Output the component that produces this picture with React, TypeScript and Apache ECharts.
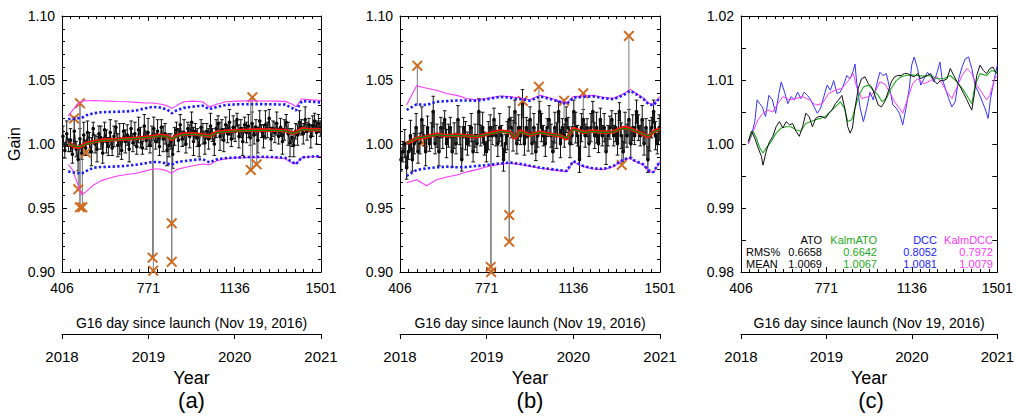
import React, { useEffect, useRef } from 'react';
import * as echarts from 'echarts';

const FONT = 'Liberation Sans, Arial, Helvetica, sans-serif';

// ---------- axes ----------
const dayTicks = [406, 771, 1136, 1501];
const yearTicks = [2018, 2019, 2020, 2021];
const dayAxisName = 'G16 day since launch (Nov 19, 2016)';
const panelLabels = ['(a)', '(b)', '(c)'];

// ---------- panels (a) & (b): individual gains ----------
const dayStart = 410;
const dayStep = 8;

const gainA = [
  1.006, 0.995, 1.008, 0.999, 1.003, 0.992, 1.010, 0.996, 0.988, 1.004, 0.993, 1.007,
  0.997, 1.009, 1.001, 0.994, 1.012, 1.000, 0.996, 1.008, 1.005, 0.993, 1.011, 1.002, 0.998,
  1.009, 0.997, 1.006, 1.013, 0.999, 1.004, 0.995, 1.010, 1.002, 1.007, 0.996, 1.012,
  1.001, 1.008, 0.998, 1.011, 1.005, 0.997, 1.014, 1.003, 1.009, 0.999, 1.006, 1.012, 1.002,
  1.010, 0.998, 1.013, 1.004, 1.008, 0.995, 0.999, 1.002, 0.992, 1.006, 1.011, 1.003,
  1.015, 1.004, 1.009, 1.000, 1.012, 1.006, 1.017, 1.002, 1.010, 1.005, 0.999, 1.013, 1.008,
  1.001, 1.010, 1.004, 1.014, 1.007, 1.000, 1.012, 1.016, 1.006, 1.011, 1.003, 1.015,
  1.008, 1.017, 1.004, 1.013, 1.010, 1.019, 1.006, 1.012, 1.002, 1.015, 1.009, 1.014, 1.005,
  1.016, 1.007, 1.013, 1.003, 1.018, 1.010, 1.006, 1.015, 1.011, 1.020, 1.004, 1.012,
  1.009, 1.016, 1.006, 1.013, 1.002, 1.011, 1.017, 1.008, 1.001, 1.005, 0.999, 1.010, 1.007,
  1.017, 1.013, 1.008, 1.019, 1.010, 1.015, 1.006, 1.014, 1.018, 1.009, 1.016, 1.012,
];
const errA = [
  0.008, 0.006, 0.010, 0.005, 0.009, 0.007, 0.011, 0.006, 0.009, 0.008, 0.005, 0.010,
  0.006, 0.009, 0.008, 0.011, 0.005, 0.007, 0.010, 0.006, 0.009, 0.008, 0.006, 0.009, 0.007,
  0.010, 0.006, 0.008, 0.005, 0.009, 0.012, 0.007, 0.006, 0.009, 0.008, 0.010, 0.006,
  0.007, 0.009, 0.006, 0.010, 0.008, 0.005, 0.009, 0.007, 0.011, 0.006, 0.008, 0.009, 0.006,
  0.009, 0.007, 0.006, 0.010, 0.008, 0.012, 0.009, 0.006, 0.011, 0.007, 0.006, 0.009,
  0.008, 0.006, 0.010, 0.007, 0.005, 0.009, 0.008, 0.011, 0.006, 0.007, 0.009, 0.006, 0.008,
  0.009, 0.006, 0.008, 0.010, 0.005, 0.009, 0.007, 0.006, 0.011, 0.008, 0.009, 0.006,
  0.007, 0.010, 0.006, 0.009, 0.008, 0.005, 0.009, 0.007, 0.011, 0.006, 0.008, 0.009, 0.006,
  0.009, 0.007, 0.006, 0.010, 0.008, 0.005, 0.009, 0.011, 0.006, 0.007, 0.009, 0.006,
  0.008, 0.009, 0.006, 0.007, 0.010, 0.008, 0.006, 0.009, 0.011, 0.007, 0.009, 0.006, 0.008,
  0.009, 0.006, 0.008, 0.010, 0.007, 0.005, 0.009, 0.008, 0.006, 0.009, 0.007, 0.006,
];
const gainB = [
  0.9878, 0.994, 1.0003, 0.9815, 0.994, 1.0065, 0.9878, 1.0003, 1.0128, 0.994, 1.0003, 1.019,
  1.0065, 0.994, 1.0128, 1.0003, 1.0065, 1.0253, 1.0003, 1.0065, 0.994, 1.0128, 1.0065, 1.019, 1.0003,
  1.0065, 1.0128, 0.994, 1.0065, 1.0003, 1.019, 1.0065, 0.9878, 1.0128, 1.0065, 1.0003, 1.0065,
  1.0128, 0.994, 1.0065, 1.0003, 1.0253, 1.0065, 1.0128, 1.0003, 0.994, 1.0065, 1.0128, 1.0065, 1.019,
  1.0065, 1.0003, 1.0128, 1.0065, 0.9878, 1.0003, 1.0065, 1.019, 1.0128, 1.0065, 1.0253, 1.0003,
  1.0128, 1.0065, 1.0315, 1.0003, 1.0128, 1.0065, 1.019, 1.0003, 1.0128, 0.994, 1.0065, 1.0253, 1.0128,
  1.0065, 1.0003, 1.0128, 1.019, 1.0065, 0.994, 1.0128, 1.0065, 1.0253, 1.0003, 1.0128, 1.0065,
  1.019, 1.0128, 1.0003, 1.0065, 1.0253, 1.0128, 1.0065, 0.9878, 1.0128, 1.019, 1.0065, 1.0128, 1.0003,
  1.0128, 1.0253, 1.0065, 1.0128, 1.0003, 1.019, 1.0065, 1.0128, 0.994, 1.0065, 1.0128, 1.019,
  1.0065, 1.0128, 1.0003, 1.0253, 1.0065, 0.994, 1.0128, 1.0065, 1.019, 1.0003, 1.0128, 1.0065, 1.0253,
  1.0128, 1.0065, 1.019, 1.0003, 1.0128, 0.9878, 1.0065, 1.0128, 1.0253, 1.0065, 1.0003, 1.0128,
];
const errB = [
  0.009, 0.008, 0.011, 0.009, 0.006, 0.012, 0.009, 0.008, 0.011, 0.009, 0.008, 0.010,
  0.008, 0.011, 0.009, 0.006, 0.010, 0.012, 0.008, 0.009, 0.011, 0.008, 0.010, 0.007, 0.011,
  0.009, 0.008, 0.012, 0.010, 0.008, 0.011, 0.007, 0.009, 0.008, 0.011, 0.009, 0.008,
  0.011, 0.008, 0.009, 0.007, 0.010, 0.008, 0.012, 0.009, 0.008, 0.011, 0.010, 0.007, 0.009,
  0.008, 0.010, 0.011, 0.008, 0.009, 0.007, 0.011, 0.010, 0.008, 0.012, 0.009, 0.008,
  0.010, 0.007, 0.011, 0.009, 0.008, 0.012, 0.010, 0.008, 0.011, 0.007, 0.009, 0.008, 0.011,
  0.008, 0.010, 0.007, 0.011, 0.009, 0.008, 0.012, 0.010, 0.008, 0.011, 0.007, 0.009,
  0.010, 0.008, 0.011, 0.007, 0.009, 0.012, 0.008, 0.010, 0.011, 0.008, 0.009, 0.007, 0.010,
  0.011, 0.008, 0.010, 0.012, 0.007, 0.009, 0.008, 0.011, 0.010, 0.008, 0.009, 0.007,
  0.008, 0.011, 0.009, 0.007, 0.010, 0.008, 0.012, 0.009, 0.008, 0.011, 0.010, 0.007, 0.009,
  0.010, 0.008, 0.011, 0.009, 0.007, 0.010, 0.012, 0.008, 0.009, 0.011, 0.008, 0.010,
];

// filtered gain and uncertainty bounds, panel (a)
const bandDaysA = [432, 450, 470, 490, 510, 540, 570, 600, 640, 680, 720, 760, 790, 820, 850, 870, 890, 920, 960, 1000, 1030, 1060, 1100, 1150, 1200, 1250, 1300, 1350, 1380, 1395, 1420, 1460, 1501];
const redA = [1.0000, 0.9990, 0.9972, 0.9985, 1.0005, 1.0018, 1.0028, 1.0032, 1.0035, 1.0040, 1.0045, 1.0052, 1.0058, 1.0068, 1.0062, 1.0035, 1.0065, 1.0078, 1.0080, 1.0072, 1.0062, 1.0092, 1.0100, 1.0105, 1.0108, 1.0110, 1.0108, 1.0105, 1.0085, 1.0090, 1.0118, 1.0110, 1.0112];
const greenA = [1.0000, 0.9992, 0.9978, 0.9985, 1.0000, 1.0015, 1.0025, 1.0030, 1.0033, 1.0038, 1.0043, 1.0050, 1.0055, 1.0064, 1.0060, 1.0038, 1.0060, 1.0074, 1.0077, 1.0070, 1.0062, 1.0088, 1.0097, 1.0102, 1.0105, 1.0107, 1.0106, 1.0102, 1.0085, 1.0088, 1.0112, 1.0108, 1.0110];
const blueUpA = [1.0195, 1.0195, 1.0200, 1.0205, 1.0225, 1.0240, 1.0248, 1.0250, 1.0252, 1.0255, 1.0262, 1.0280, 1.0290, 1.0285, 1.0270, 1.0240, 1.0262, 1.0282, 1.0292, 1.0300, 1.0272, 1.0290, 1.0305, 1.0310, 1.0310, 1.0312, 1.0310, 1.0308, 1.0280, 1.0262, 1.0335, 1.0330, 1.0325];
const magUpA = [1.0220, 1.0260, 1.0310, 1.0335, 1.0338, 1.0340, 1.0338, 1.0335, 1.0332, 1.0330, 1.0325, 1.0320, 1.0320, 1.0312, 1.0300, 1.0278, 1.0300, 1.0330, 1.0335, 1.0330, 1.0290, 1.0310, 1.0330, 1.0335, 1.0338, 1.0336, 1.0335, 1.0333, 1.0310, 1.0290, 1.0352, 1.0345, 1.0340];
const blueLoA = [0.9785, 0.9780, 0.9772, 0.9770, 0.9790, 0.9815, 0.9820, 0.9822, 0.9825, 0.9830, 0.9838, 0.9850, 0.9860, 0.9858, 0.9848, 0.9838, 0.9858, 0.9866, 0.9875, 0.9882, 0.9856, 0.9880, 0.9890, 0.9895, 0.9898, 0.9900, 0.9898, 0.9892, 0.9860, 0.9842, 0.9895, 0.9902, 0.9905];
const magLoA = [0.9840, 0.9800, 0.9700, 0.9604, 0.9630, 0.9680, 0.9712, 0.9730, 0.9750, 0.9762, 0.9772, 0.9790, 0.9805, 0.9805, 0.9790, 0.9770, 0.9800, 0.9815, 0.9830, 0.9844, 0.9838, 0.9870, 0.9885, 0.9892, 0.9895, 0.9895, 0.9893, 0.9885, 0.9850, 0.9845, 0.9895, 0.9900, 0.9902];

// filtered gain and uncertainty bounds, panel (b)
const bandDaysB = [434, 476, 518, 560, 603, 645, 687, 729, 771, 827, 869, 890, 911, 953, 996, 1038, 1080, 1108, 1136, 1178, 1220, 1262, 1305, 1347, 1375, 1389, 1431, 1452, 1473, 1501];
const redB = [1.0005, 1.0044, 1.0057, 1.0076, 1.0065, 1.0070, 1.0065, 1.0057, 1.0076, 1.0102, 1.0091, 1.0044, 1.0102, 1.0070, 1.0091, 1.0076, 1.0065, 1.0039, 1.0122, 1.0091, 1.0102, 1.0091, 1.0096, 1.0128, 1.0120, 1.0109, 1.0076, 1.0057, 1.0096, 1.0117];
const greenB = [1.0008, 1.0045, 1.0058, 1.0072, 1.0066, 1.0068, 1.0064, 1.0060, 1.0074, 1.0097, 1.0088, 1.0052, 1.0096, 1.0072, 1.0088, 1.0076, 1.0066, 1.0045, 1.0115, 1.0090, 1.0099, 1.0090, 1.0094, 1.0122, 1.0116, 1.0106, 1.0078, 1.0062, 1.0093, 1.0112];
const magUpB = [1.0305, 1.0455, 1.0435, 1.0420, 1.0395, 1.0380, 1.0355, 1.0345, 1.0355, 1.0375, 1.0370, 1.0365, 1.0360, 1.0345, 1.0380, 1.0360, 1.0335, 1.0320, 1.0370, 1.0375, 1.0380, 1.0365, 1.0357, 1.0390, 1.0427, 1.0410, 1.0360, 1.0320, 1.0310, 1.0370];
const blueUpB = [1.0266, 1.0310, 1.0305, 1.0330, 1.0335, 1.0340, 1.0340, 1.0338, 1.0350, 1.0368, 1.0362, 1.0355, 1.0352, 1.0338, 1.0372, 1.0352, 1.0328, 1.0312, 1.0362, 1.0368, 1.0372, 1.0358, 1.0350, 1.0382, 1.0415, 1.0402, 1.0352, 1.0312, 1.0302, 1.0362];
const magLoB = [0.9698, 0.9720, 0.9674, 0.9720, 0.9742, 0.9758, 0.9782, 0.9800, 0.9823, 0.9842, 0.9850, 0.9845, 0.9840, 0.9825, 0.9810, 0.9800, 0.9790, 0.9784, 0.9862, 0.9823, 0.9805, 0.9800, 0.9823, 0.9875, 0.9888, 0.9870, 0.9835, 0.9790, 0.9775, 0.9862];
const blueLoB = [0.9750, 0.9797, 0.9810, 0.9818, 0.9823, 0.9818, 0.9820, 0.9828, 0.9835, 0.9848, 0.9855, 0.9850, 0.9845, 0.9830, 0.9815, 0.9805, 0.9795, 0.9790, 0.9866, 0.9828, 0.9810, 0.9805, 0.9828, 0.9880, 0.9893, 0.9875, 0.9840, 0.9795, 0.9780, 0.9866];

// rejected outliers (x marks) and their grey bars
const outDaysA = [457, 482, 475, 482, 492, 507, 789, 792, 870, 870, 1211, 1204, 1229];
const outValsA = [1.020, 1.0318, 0.9646, 0.9505, 0.9505, 0.9932, 0.9112, 0.901, 0.938, 0.908, 1.0365, 0.9797, 0.9841];
const outLoA = [1.012, 0.9505, 0.9646, 0.9505, 0.9505, 0.9932, 0.9112, 0.901, 0.908, 0.908, 0.9797, 0.9797, 0.9841];
const outHiA = [1.020, 1.0318, 1.000, 1.0318, 0.998, 1.002, 1.002, 1.002, 1.004, 1.004, 1.0365, 1.0365, 1.006];

const outDaysB = [479, 501, 788, 790, 866, 866, 923, 991, 1097, 1178, 1340, 1370];
const outValsB = [1.0612, 1.001, 0.904, 0.900, 0.9445, 0.9237, 1.0336, 1.0448, 1.0338, 1.0396, 0.9836, 1.0844];
const outLoB = [1.030, 1.001, 0.904, 0.900, 0.9237, 0.9237, 1.020, 1.015, 1.020, 1.020, 0.9836, 1.000];
const outHiB = [1.0612, 1.001, 1.005, 1.005, 1.005, 1.005, 1.0336, 1.0448, 1.0338, 1.0396, 0.995, 1.0844];

// ---------- panel (c) ----------
const atoDays = [437, 451, 465, 479, 493, 500, 514, 528, 542, 556, 570, 585, 599, 613, 627, 641, 655, 669, 683, 697, 711, 725, 739, 753, 767, 781, 795, 809, 823, 837, 851, 862, 872, 882, 893, 907, 921, 936, 950, 964, 978, 992, 1006, 1020, 1034, 1048, 1062, 1076, 1090, 1104, 1118, 1132, 1146, 1160, 1174, 1188, 1202, 1216, 1230, 1244, 1258, 1272, 1286, 1300, 1315, 1329, 1343, 1357, 1371, 1385, 1392, 1402, 1413, 1427, 1441, 1455, 1469, 1483, 1494, 1501];
const atoVals = [1.0004, 1.0020, 1.0009, 0.9994, 0.9981, 0.9967, 0.9989, 1.0004, 1.0012, 1.0027, 1.0035, 1.0025, 1.0035, 1.0030, 1.0032, 1.0020, 1.0012, 1.0027, 1.0048, 1.0043, 1.0027, 1.0040, 1.0043, 1.0043, 1.0040, 1.0048, 1.0053, 1.0063, 1.0069, 1.0076, 1.0053, 1.0027, 1.0017, 1.0025, 1.0056, 1.0087, 1.0102, 1.0105, 1.0094, 1.0089, 1.0076, 1.0061, 1.0058, 1.0066, 1.0081, 1.0097, 1.0105, 1.0107, 1.0107, 1.0110, 1.0110, 1.0107, 1.0105, 1.0110, 1.0102, 1.0105, 1.0107, 1.0110, 1.0099, 1.0094, 1.0099, 1.0099, 1.0102, 1.0118, 1.0107, 1.0097, 1.0089, 1.0079, 1.0069, 1.0058, 1.0053, 1.0076, 1.0107, 1.0123, 1.0115, 1.0110, 1.0118, 1.0120, 1.0112, 1.0110];
const katoDays = [437, 458, 472, 486, 500, 514, 535, 556, 578, 599, 620, 641, 662, 683, 704, 725, 746, 767, 788, 809, 830, 848, 862, 879, 893, 910, 929, 950, 971, 992, 1009, 1027, 1048, 1069, 1090, 1111, 1132, 1160, 1188, 1216, 1244, 1272, 1300, 1329, 1357, 1378, 1392, 1406, 1427, 1455, 1476, 1501];
const katoVals = [1.0004, 1.0020, 1.0009, 0.9994, 0.9986, 0.9994, 1.0004, 1.0017, 1.0025, 1.0027, 1.0027, 1.0022, 1.0020, 1.0032, 1.0035, 1.0038, 1.0040, 1.0043, 1.0051, 1.0058, 1.0066, 1.0056, 1.0035, 1.0038, 1.0056, 1.0076, 1.0089, 1.0092, 1.0084, 1.0076, 1.0066, 1.0071, 1.0087, 1.0099, 1.0105, 1.0107, 1.0108, 1.0107, 1.0106, 1.0107, 1.0102, 1.0102, 1.0107, 1.0097, 1.0084, 1.0071, 1.0063, 1.0092, 1.0110, 1.0107, 1.0115, 1.0112];
const dccDays = [437, 451, 465, 475, 486, 497, 511, 525, 540, 554, 568, 578, 592, 606, 620, 634, 648, 662, 676, 690, 704, 718, 732, 746, 760, 774, 788, 802, 816, 830, 844, 858, 872, 886, 893, 900, 915, 929, 943, 957, 971, 985, 999, 1013, 1027, 1041, 1055, 1069, 1083, 1097, 1111, 1125, 1135, 1146, 1160, 1174, 1188, 1202, 1216, 1230, 1244, 1256, 1265, 1279, 1293, 1307, 1321, 1336, 1350, 1364, 1378, 1392, 1406, 1420, 1434, 1448, 1462, 1472, 1483, 1494, 1501];
const dccVals = [1.0000, 1.0014, 1.0035, 1.0069, 1.0063, 1.0058, 1.0043, 1.0076, 1.0069, 1.0048, 1.0079, 1.0097, 1.0081, 1.0063, 1.0074, 1.0069, 1.0081, 1.0071, 1.0081, 1.0076, 1.0069, 1.0058, 1.0048, 1.0056, 1.0074, 1.0092, 1.0084, 1.0099, 1.0079, 1.0081, 1.0092, 1.0107, 1.0102, 1.0115, 1.0125, 1.0097, 1.0056, 1.0035, 1.0056, 1.0081, 1.0069, 1.0092, 1.0112, 1.0107, 1.0110, 1.0087, 1.0061, 1.0056, 1.0048, 1.0030, 1.0056, 1.0087, 1.0123, 1.0136, 1.0118, 1.0092, 1.0102, 1.0112, 1.0107, 1.0097, 1.0112, 1.0128, 1.0102, 1.0087, 1.0071, 1.0058, 1.0066, 1.0102, 1.0120, 1.0133, 1.0136, 1.0118, 1.0092, 1.0081, 1.0069, 1.0056, 1.0040, 1.0071, 1.0092, 1.0112, 1.0123];
const kdccDays = [437, 458, 479, 500, 521, 542, 563, 585, 613, 641, 669, 697, 725, 753, 781, 809, 837, 865, 886, 900, 921, 950, 978, 999, 1020, 1041, 1062, 1083, 1097, 1118, 1139, 1160, 1188, 1216, 1244, 1265, 1286, 1307, 1329, 1350, 1371, 1392, 1413, 1434, 1455, 1469, 1490, 1501];
const kdccVals = [1.0000, 1.0020, 1.0038, 1.0048, 1.0053, 1.0050, 1.0063, 1.0074, 1.0069, 1.0071, 1.0074, 1.0069, 1.0061, 1.0063, 1.0079, 1.0084, 1.0087, 1.0099, 1.0110, 1.0089, 1.0071, 1.0074, 1.0081, 1.0097, 1.0094, 1.0081, 1.0066, 1.0056, 1.0048, 1.0071, 1.0094, 1.0102, 1.0094, 1.0099, 1.0105, 1.0094, 1.0081, 1.0071, 1.0089, 1.0107, 1.0118, 1.0110, 1.0092, 1.0081, 1.0069, 1.0076, 1.0102, 1.0107];

const statNames = ['ATO', 'KalmATO', 'DCC', 'KalmDCC'];
const rmsVals = ['0.6658', '0.6642', '0.8052', '0.7972'];
const meanVals = ['1.0069', '1.0067', '1.0081', '1.0079'];

// ---------- styling ----------
const C_BLUE = '#1c1cff';
const C_MAG = '#ff38ff';
const C_RED = '#ff1010';
const C_DKGREEN = '#0a8a0a';
const C_GREEN = '#22aa22';
const C_ORANGE = '#cf6a1f';
const statColors = ['#000000', C_GREEN, C_BLUE, C_MAG];
const X_SYMBOL = 'path://M0,1.5L1.5,0L6,4.5L10.5,0L12,1.5L7.5,6L12,10.5L10.5,12L6,7.5L1.5,12L0,10.5L4.5,6Z';

const grids = [
  { left: 62, top: 16, width: 259, height: 256 },
  { left: 400, top: 16, width: 260, height: 256 },
  { left: 741, top: 16, width: 260, height: 256 },
];
const panelCenters = [191.5, 530, 871];

const black = '#000';
const axisLineStyle = { show: true, onZero: false, lineStyle: { color: black, width: 1 } };

function xAxesFor(g: number) {
  const base = {
    type: 'value',
    gridIndex: g,
    min: dayTicks[0],
    max: dayTicks[dayTicks.length - 1],
    interval: dayTicks[1] - dayTicks[0],
    axisLine: axisLineStyle,
    axisTick: { show: true, inside: true, length: 5, lineStyle: { color: black } },
    minorTick: { show: true, splitNumber: 10, length: 3, lineStyle: { color: black } },
    splitLine: { show: false },
    minorSplitLine: { show: false },
  };
  return [
    {
      ...base,
      position: 'bottom',
      axisLabel: { show: true, color: black, fontSize: 14, margin: 9, fontFamily: FONT, showMinLabel: true, showMaxLabel: true, formatter: (v: number) => String(v) },
      name: dayAxisName,
      nameLocation: 'middle',
      nameGap: 44,
      nameTextStyle: { color: black, fontSize: 14, fontFamily: FONT },
    },
    { ...base, position: 'top', axisLabel: { show: false } },
    {
      type: 'value',
      gridIndex: g,
      position: 'bottom',
      offset: 62,
      min: yearTicks[0],
      max: yearTicks[yearTicks.length - 1],
      interval: yearTicks[1] - yearTicks[0],
      axisLine: axisLineStyle,
      axisTick: { show: true, inside: false, length: 5, lineStyle: { color: black } },
      minorTick: { show: false },
      splitLine: { show: false },
      axisLabel: { show: true, color: black, fontSize: 15, margin: 15, fontFamily: FONT, showMinLabel: true, showMaxLabel: true, formatter: (v: number) => String(v) },
      name: 'Year',
      nameLocation: 'middle',
      nameGap: 31,
      nameTextStyle: { color: black, fontSize: 18, fontFamily: FONT },
    },
  ];
}

function yAxesFor(g: number, c: boolean, withName: boolean) {
  const base: any = c
    ? {
        min: 0.98, max: 1.02, interval: 0.005,
        minorTick: { show: false },
        fmt: (v: number) => (Math.round(v * 1000) % 10 === 0 ? v.toFixed(2) : ''),
      }
    : {
        min: 0.9, max: 1.1, interval: 0.05,
        minorTick: { show: true, splitNumber: 5, length: 3, lineStyle: { color: black } },
        fmt: (v: number) => v.toFixed(2),
      };
  const common = {
    type: 'value',
    gridIndex: g,
    min: base.min,
    max: base.max,
    interval: base.interval,
    axisLine: axisLineStyle,
    axisTick: { show: true, inside: true, length: 5, lineStyle: { color: black } },
    minorTick: base.minorTick,
    splitLine: { show: false },
    minorSplitLine: { show: false },
  };
  return [
    {
      ...common,
      position: 'left',
      axisLabel: { show: true, color: black, fontSize: 14, margin: 7, fontFamily: FONT, showMinLabel: true, showMaxLabel: true, formatter: base.fmt },
      ...(withName
        ? { name: 'Gain', nameLocation: 'middle', nameGap: 40, nameRotate: 90, nameTextStyle: { color: black, fontSize: 16, fontFamily: FONT } }
        : {}),
    },
    { ...common, position: 'right', axisLabel: { show: false } },
  ];
}

function lineSeries(xi: number, yi: number, days: number[], vals: number[], color: string, width: number, type: any = 'solid', step: any = false) {
  return {
    type: 'line',
    xAxisIndex: xi,
    yAxisIndex: yi,
    data: days.map((d, i) => [d, vals[i]]),
    symbol: 'none',
    step,
    lineStyle: { color, width, type },
    silent: true,
    clip: true,
  };
}

function errorBarSeries(xi: number, yi: number, days: number[], vals: number[], errs: number[]) {
  return {
    type: 'custom',
    xAxisIndex: xi,
    yAxisIndex: yi,
    clip: true,
    silent: true,
    data: days.map((d, i) => [d, vals[i], errs[i]]),
    encode: { x: 0, y: 1 },
    renderItem: (_p: any, api: any) => {
      const x = api.value(0);
      const y = api.value(1);
      const e = api.value(2);
      const t = api.coord([x, y + e]);
      const b = api.coord([x, y - e]);
      const cw = 1.8;
      const st = { stroke: '#111', lineWidth: 1 };
      return {
        type: 'group',
        children: [
          { type: 'line', shape: { x1: t[0], y1: t[1], x2: b[0], y2: b[1] }, style: st },
          { type: 'line', shape: { x1: t[0] - cw, y1: t[1], x2: t[0] + cw, y2: t[1] }, style: st },
          { type: 'line', shape: { x1: b[0] - cw, y1: b[1], x2: b[0] + cw, y2: b[1] }, style: st },
        ],
      };
    },
  };
}

function barRangeSeries(xi: number, yi: number, days: number[], lo: number[], hi: number[]) {
  return {
    type: 'custom',
    xAxisIndex: xi,
    yAxisIndex: yi,
    clip: true,
    silent: true,
    data: days.map((d, i) => [d, lo[i], hi[i]]),
    encode: { x: 0, y: [1, 2] },
    renderItem: (_p: any, api: any) => {
      const x = api.value(0);
      const a = api.coord([x, api.value(1)]);
      const b = api.coord([x, api.value(2)]);
      return { type: 'line', shape: { x1: a[0], y1: a[1], x2: b[0], y2: b[1] }, style: { stroke: '#7a7a7a', lineWidth: 1 } };
    },
  };
}

function scatterSeries(xi: number, yi: number, days: number[], vals: number[], symbol: string, size: number, color: string) {
  return {
    type: 'scatter',
    xAxisIndex: xi,
    yAxisIndex: yi,
    data: days.map((d, i) => [d, vals[i]]),
    symbol,
    symbolSize: size,
    itemStyle: { color, opacity: 1 },
    silent: true,
    clip: true,
  };
}

function gainPanel(p: number, gains: number[], errs: number[], stepped: boolean, bandDays: number[], red: number[], green: number[], bUp: number[], bLo: number[], mUp: number[], mLo: number[], oDays: number[], oVals: number[], oLo: number[], oHi: number[]) {
  const xi = p * 3;
  const yi = p * 2;
  const days = gains.map((_, i) => dayStart + dayStep * i);
  return [
    lineSeries(xi, yi, days, gains, '#111', stepped ? 1.2 : 1.1, 'solid', stepped ? 'middle' : false),
    errorBarSeries(xi, yi, days, gains, errs),
    scatterSeries(xi, yi, days, gains, 'circle', 3.6, '#000'),
    barRangeSeries(xi, yi, oDays, oLo, oHi),
    lineSeries(xi, yi, bandDays, mUp, C_MAG, 1.1),
    lineSeries(xi, yi, bandDays, mLo, C_MAG, 1.1),
    lineSeries(xi, yi, bandDays, bUp, C_BLUE, 2.6, [2.4, 2.2]),
    lineSeries(xi, yi, bandDays, bLo, C_BLUE, 2.6, [2.4, 2.2]),
    lineSeries(xi, yi, bandDays, red, C_RED, 3.6),
    lineSeries(xi, yi, bandDays, green, C_DKGREEN, 1.3),
    scatterSeries(xi, yi, oDays, oVals, X_SYMBOL, 11, C_ORANGE),
  ];
}

function buildOption() {
  const xAxis = [...xAxesFor(0), ...xAxesFor(1), ...xAxesFor(2)];
  const yAxis = [...yAxesFor(0, false, true), ...yAxesFor(1, false, false), ...yAxesFor(2, true, false)];
  const series = [
    ...gainPanel(0, gainA, errA, false, bandDaysA, redA, greenA, blueUpA, blueLoA, magUpA, magLoA, outDaysA, outValsA, outLoA, outHiA),
    ...gainPanel(1, gainB, errB, true, bandDaysB, redB, greenB, blueUpB, blueLoB, magUpB, magLoB, outDaysB, outValsB, outLoB, outHiB),
    lineSeries(6, 4, dccDays, dccVals, '#3333ff', 1),
    lineSeries(6, 4, kdccDays, kdccVals, C_MAG, 1),
    lineSeries(6, 4, katoDays, katoVals, C_GREEN, 1.1),
    lineSeries(6, 4, atoDays, atoVals, '#111', 1),
  ];

  const colRight = [822, 877, 937, 993];
  const rowY = [239.5, 251.5, 263.5];
  const txt = (text: string, x: number, y: number, fill: string, align: string, size = 11) => ({
    type: 'text',
    x,
    y,
    silent: true,
    style: { text, fill, fontSize: size, lineHeight: size, fontFamily: FONT, align, verticalAlign: 'middle' },
  });
  const graphic: any[] = [
    ...panelLabels.map((t, i) => txt(t, panelCenters[i], 400, black, 'center', 22)),
    txt('RMS%', 746, rowY[1], black, 'left'),
    txt('MEAN', 746, rowY[2], black, 'left'),
    ...statNames.map((t, i) => txt(t, colRight[i], rowY[0], statColors[i], 'right')),
    ...rmsVals.map((t, i) => txt(t, colRight[i], rowY[1], statColors[i], 'right')),
    ...meanVals.map((t, i) => txt(t, colRight[i], rowY[2], statColors[i], 'right')),
  ];

  return {
    animation: false,
    backgroundColor: '#ffffff',
    textStyle: { fontFamily: FONT },
    grid: grids.map((g) => ({ ...g, containLabel: false, show: false })),
    xAxis,
    yAxis,
    series,
    graphic,
  };
}

export default function App() {
  const ref = useRef<HTMLDivElement>(null);
  useEffect(() => {
    if (!ref.current) return;
    const chart = echarts.init(ref.current, undefined, { renderer: 'svg' });
    chart.setOption(buildOption() as any);
    return () => chart.dispose();
  }, []);
  return <div ref={ref} style={{ position: 'absolute', left: 0, top: 0, width: 1017, height: 418 }} />;
}
